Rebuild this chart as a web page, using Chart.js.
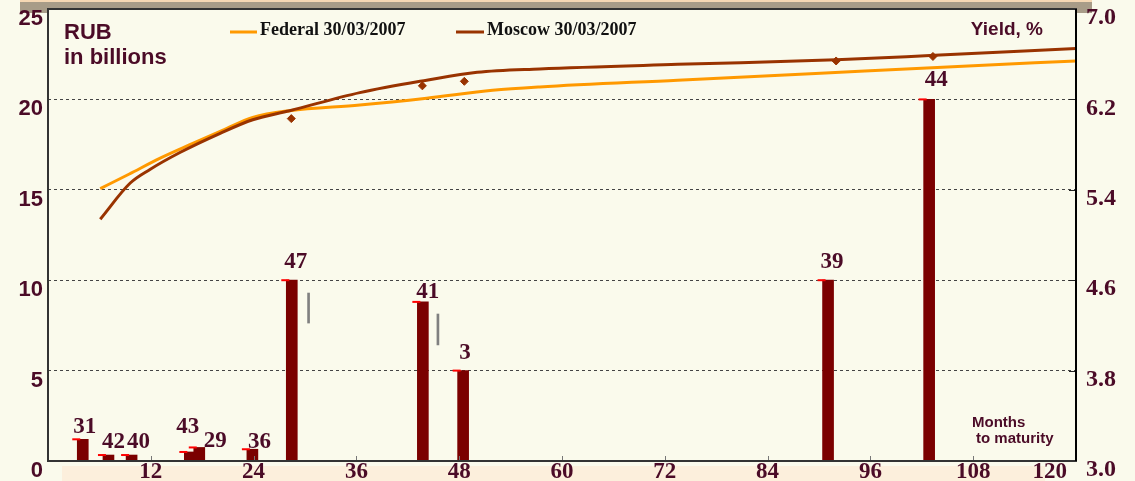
<!DOCTYPE html>
<html>
<head>
<meta charset="utf-8">
<title>Yield curve 30/03/2007</title>
<script src="https://cdn.jsdelivr.net/npm/chart.js@4.4.1/dist/chart.umd.min.js"></script>
<style>
  html, body { margin: 0; padding: 0; background: #fafaec; }
  #wrap { width: 1135px; height: 481px; }
</style>
</head>
<body>
<div id="wrap"><canvas id="yieldChart" width="1135" height="481"></canvas></div>
<script>
// bond issues: number, months to maturity, volume in RUB bn
const bondLabels = ['31', '42', '40', '43', '29', '36', '47', '41', '3', '39', '44'];
const bondMonths = [4.7, 7.7, 10.4, 17.2, 18.3, 24.5, 29.1, 44.4, 49.1, 91.7, 103.5];
const bondVolumes = [1.2, 0.33, 0.33, 0.5, 0.75, 0.65, 10, 8.8, 5, 10, 20];

// yield curves 30/03/2007 (%)
const federalMonths = [6.1, 9.5, 13.1, 16.9, 20.5, 23.9, 28.2, 36.4, 44.2, 51.9, 57.4, 73.5, 89.6, 105.6, 120];
const federalYields = [5.41, 5.54, 5.68, 5.81, 5.93, 6.04, 6.10, 6.15, 6.21, 6.28, 6.31, 6.37, 6.43, 6.49, 6.54];
const moscowMonths = [6.1, 9.6, 11.9, 15.4, 20.1, 23.9, 28.2, 36.4, 44.2, 50.1, 57.4, 73.5, 92, 103.5, 120];
const moscowYields = [5.14, 5.46, 5.58, 5.73, 5.90, 6.02, 6.10, 6.26, 6.37, 6.44, 6.47, 6.51, 6.55, 6.59, 6.65];

// single Moscow bonds (diamonds)
const moscowBondMonths = [28.4, 43.7, 48.6, 92.0, 103.3];
const moscowBondYields = [6.03, 6.32, 6.36, 6.54, 6.58];

// small grey marks next to bonds 47 and 41
const markMonths = [30.3, 45.4];
const markLow = [7.63, 6.42];
const markHigh = [9.29, 8.13];

// axis ticks
const monthTicks = [12, 24, 36, 48, 60, 72, 84, 96, 108, 120];
const volumeTicks = [0, 5, 10, 15, 20, 25];
const yieldTicks = [3.0, 3.8, 4.6, 5.4, 6.2, 7.0];

// label nudges in px (dx, dy from bar top)
const labelShift = [[2, -6], [5, -7], [7, -7], [-2, -19], [16, 0], [7, -1], [4, -12], [5, -4], [2, -12], [4, -12], [7, -13]];

const textColor = '#4b0b27';
const orange = '#ff9900';
const brown = '#993300';
const serif = "'Liberation Serif', 'Times New Roman', serif";
const sans = "'Liberation Sans', Arial, sans-serif";

// no extra room for overhanging tick labels
function noPadding(s) {
    s.paddingTop = 0;
    s.paddingBottom = 0;
    s.paddingLeft = 0;
    s.paddingRight = 0;
}

const decorations = {
    id: 'decorations',
    beforeDraw(chart) {
        const ctx = chart.ctx;
        ctx.save();
        ctx.fillStyle = '#fafaec';
        ctx.fillRect(0, 0, chart.width, chart.height);
        // top shadow band
        ctx.fillStyle = '#a89c88';
        ctx.fillRect(20, 0, 1072, 13);
        ctx.fillStyle = '#f6d8b4';
        ctx.fillRect(20, 0, 1072, 2);
        // bottom band
        ctx.fillStyle = '#fcefdc';
        ctx.fillRect(62, 466, 983, 15);
        // plot area
        const a = chart.chartArea;
        ctx.fillStyle = '#fafaec';
        ctx.fillRect(a.left, a.top, a.right - a.left, a.bottom - a.top);
        ctx.restore();
    },
    afterDatasetsDraw(chart) {
        const ctx = chart.ctx;
        const bars = chart.getDatasetMeta(0).data;
        ctx.save();
        bars.forEach((bar, i) => {
            const left = bar.x - bar.width / 2;
            ctx.strokeStyle = '#ff0000';
            ctx.lineWidth = 2;
            ctx.beginPath();
            ctx.moveTo(left - 5, bar.y);
            ctx.lineTo(left + 3, bar.y);
            ctx.stroke();

            ctx.fillStyle = textColor;
            ctx.font = 'bold 23px ' + serif;
            ctx.textAlign = 'center';
            ctx.textBaseline = 'alphabetic';
            ctx.fillText(bondLabels[i], bar.x + labelShift[i][0], bar.y + labelShift[i][1]);
        });
        ctx.restore();
    },
    afterDraw(chart) {
        const ctx = chart.ctx;
        const a = chart.chartArea;
        const xs = chart.scales.x;
        const ys = chart.scales.yield;
        ctx.save();

        // small inside ticks
        ctx.strokeStyle = '#777';
        ctx.lineWidth = 1;
        monthTicks.forEach(m => {
            const x = Math.round(xs.getPixelForValue(m)) + 0.5;
            ctx.beginPath();
            ctx.moveTo(x, a.bottom);
            ctx.lineTo(x, a.bottom - 5);
            ctx.stroke();
        });
        ctx.strokeStyle = '#222';
        yieldTicks.forEach(v => {
            const y = Math.round(ys.getPixelForValue(v)) + 0.5;
            ctx.beginPath();
            ctx.moveTo(a.right - 7, y);
            ctx.lineTo(a.right, y);
            ctx.stroke();
        });

        // frame
        ctx.strokeStyle = '#333';
        ctx.lineWidth = 2;
        ctx.strokeRect(a.left, a.top, a.right - a.left, a.bottom - a.top);
        ctx.strokeStyle = '#000';
        ctx.beginPath();
        ctx.moveTo(a.right, a.top);
        ctx.lineTo(a.right, a.bottom);
        ctx.stroke();

        // month labels
        ctx.fillStyle = textColor;
        ctx.font = 'bold 23px ' + serif;
        ctx.textAlign = 'center';
        ctx.textBaseline = 'alphabetic';
        monthTicks.forEach(m => {
            const label = String(m);
            const w = ctx.measureText(label).width;
            let x = xs.getPixelForValue(m);
            if (x + w / 2 > a.right - 9) x = a.right - 9 - w / 2;
            ctx.fillText(label, x, 478);
        });

        // axis titles
        ctx.textAlign = 'left';
        ctx.font = 'bold 22px ' + sans;
        ctx.fillText('RUB', 64, 39);
        ctx.fillText('in billions', 64, 64);
        ctx.textAlign = 'right';
        ctx.font = 'bold 19px ' + sans;
        ctx.fillText('Yield, %', 1043, 35);
        ctx.textAlign = 'left';
        ctx.font = 'bold 15px ' + sans;
        ctx.fillText('Months', 972, 427);
        ctx.fillText('to maturity', 976, 443);

        // legend
        ctx.lineWidth = 3;
        ctx.strokeStyle = orange;
        ctx.beginPath();
        ctx.moveTo(230, 32);
        ctx.lineTo(257, 32);
        ctx.stroke();
        ctx.strokeStyle = brown;
        ctx.beginPath();
        ctx.moveTo(456, 32);
        ctx.lineTo(484, 32);
        ctx.stroke();
        ctx.fillStyle = '#111';
        ctx.font = 'bold 18px ' + serif;
        ctx.fillText('Federal 30/03/2007', 260, 35);
        ctx.fillText('Moscow 30/03/2007', 487, 35);

        ctx.restore();
    }
};

const config = {
    type: 'bar',
    data: {
        datasets: [
            {
                label: 'Volume',
                data: bondMonths.map((m, i) => ({ x: m, y: bondVolumes[i] })),
                backgroundColor: '#7b0000',
                barThickness: 11,
                yAxisID: 'volume',
                order: 3
            },
            {
                label: 'marks',
                data: markMonths.map((m, i) => ({ x: m, y: [markLow[i], markHigh[i]] })),
                backgroundColor: '#808080',
                barThickness: 2,
                yAxisID: 'volume',
                order: 4
            },
            {
                type: 'line',
                label: 'Federal 30/03/2007',
                data: federalMonths.map((m, i) => ({ x: m, y: federalYields[i] })),
                borderColor: orange,
                borderWidth: 3,
                pointRadius: 0,
                cubicInterpolationMode: 'monotone',
                yAxisID: 'yield',
                order: 2
            },
            {
                type: 'line',
                label: 'Moscow 30/03/2007',
                data: moscowMonths.map((m, i) => ({ x: m, y: moscowYields[i] })),
                borderColor: brown,
                borderWidth: 3,
                pointRadius: 0,
                cubicInterpolationMode: 'monotone',
                yAxisID: 'yield',
                order: 1
            },
            {
                type: 'scatter',
                label: 'Moscow bonds',
                data: moscowBondMonths.map((m, i) => ({ x: m, y: moscowBondYields[i] })),
                backgroundColor: brown,
                borderColor: brown,
                pointStyle: 'rectRot',
                pointRadius: 4,
                yAxisID: 'yield',
                order: 0
            }
        ]
    },
    options: {
        responsive: false,
        animation: false,
        layout: { padding: { top: 9, left: 0, right: 0, bottom: 0 } },
        plugins: {
            legend: { display: false },
            tooltip: { enabled: false }
        },
        scales: {
            x: {
                type: 'linear',
                min: 0,
                max: 120,
                offset: false,
                grid: { display: false },
                border: { display: false },
                ticks: { display: false },
                afterBuildTicks: (s) => { s.ticks = monthTicks.map(v => ({ value: v })); },
                afterFit: (s) => { s.height = 20; noPadding(s); }
            },
            volume: {
                position: 'left',
                min: 0,
                max: 25,
                grid: { color: '#444', lineWidth: 1, drawTicks: false },
                border: { display: false, dash: [3, 3] },
                ticks: {
                    color: textColor,
                    font: { family: sans, weight: 'bold', size: 22 },
                    padding: 5,
                    labelOffset: 10
                },
                afterBuildTicks: (s) => { s.ticks = volumeTicks.map(v => ({ value: v })); },
                afterFit: (s) => { s.width = 48; noPadding(s); }
            },
            yield: {
                position: 'right',
                min: 3,
                max: 7,
                grid: { display: false, drawTicks: false },
                border: { display: false },
                ticks: {
                    color: textColor,
                    font: { family: serif, weight: 'bold', size: 24 },
                    padding: 10,
                    labelOffset: 9,
                    callback: (v) => Number(v).toFixed(1)
                },
                afterBuildTicks: (s) => { s.ticks = yieldTicks.map(v => ({ value: v })); },
                afterFit: (s) => { s.width = 59; noPadding(s); }
            }
        }
    },
    plugins: [decorations]
};

new Chart(document.getElementById('yieldChart'), config);
</script>
</body>
</html>
